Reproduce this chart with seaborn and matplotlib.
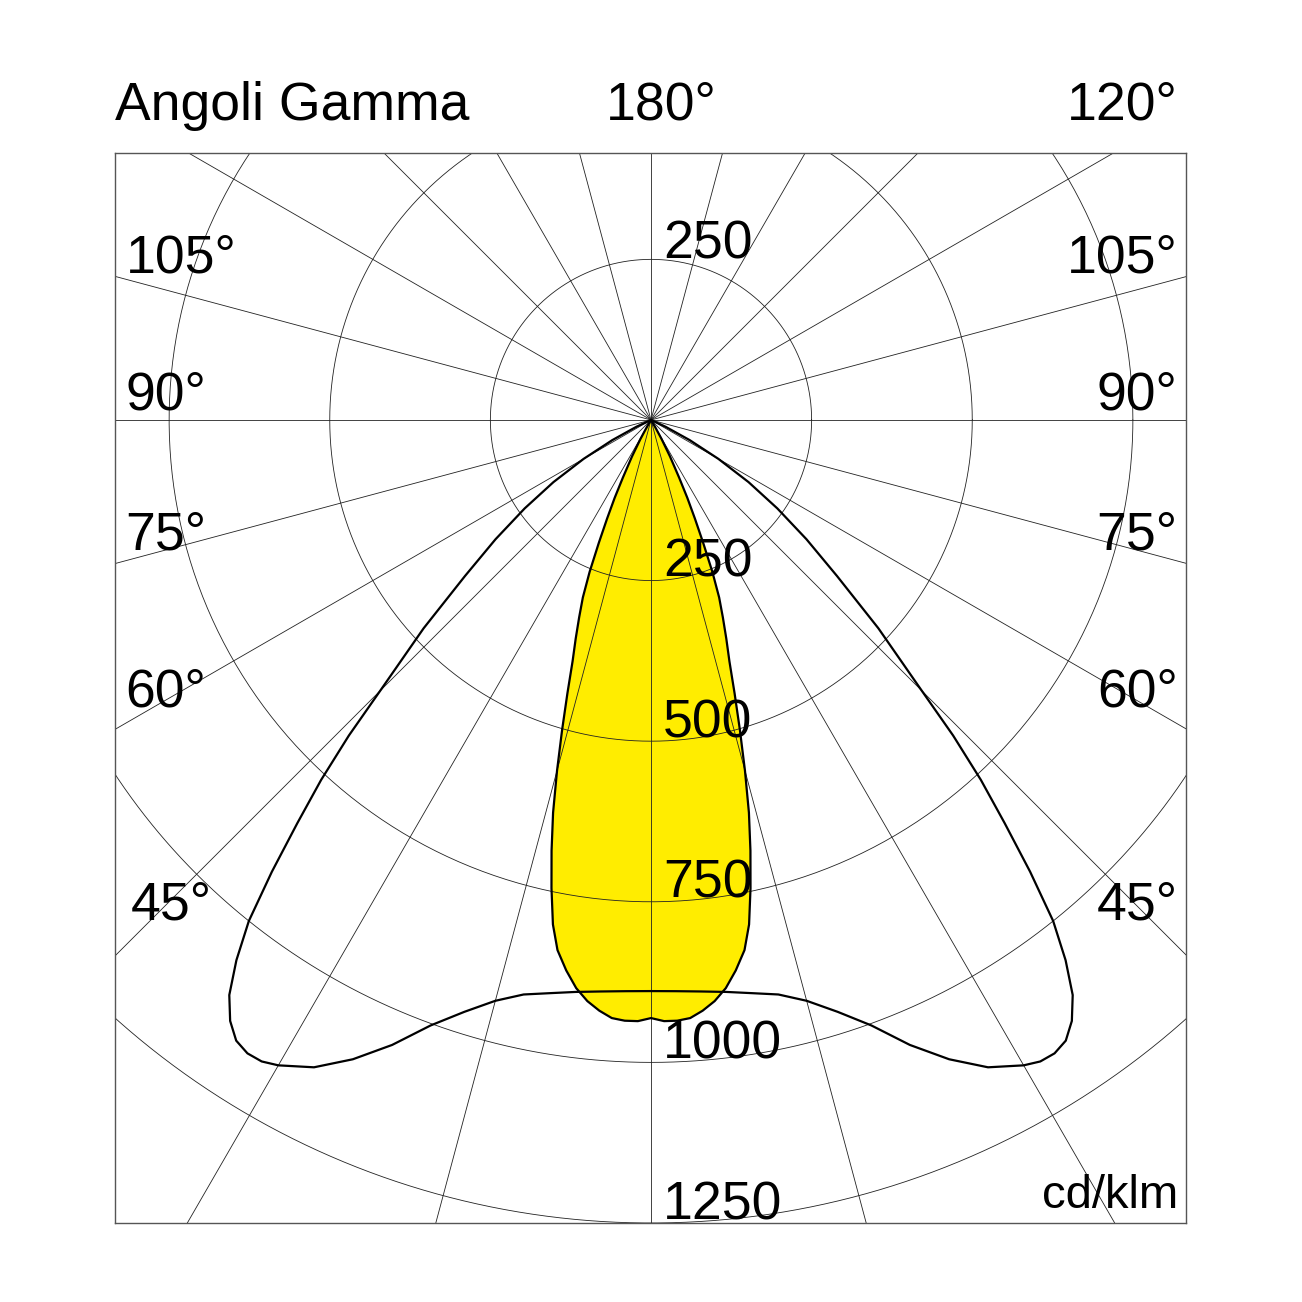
import numpy as np
import pandas as pd
import matplotlib
matplotlib.use('Agg')
import matplotlib.pyplot as plt
import seaborn as sns

# gamma angles (deg from nadir) and intensities in cd/klm, one half of each symmetric plane
gamma_yellow = [0, 1.25, 2.5, 3.75, 5, 6.25, 7.5, 8.75, 10, 11, 12, 13, 14, 15, 16, 17,
                18, 19, 20, 21, 22, 23, 24, 25, 26, 27.5, 29, 30.5, 32]
cd_yellow = [931, 936, 936, 933, 923, 910, 892, 867, 838, 800, 745, 688, 630, 565, 502, 445,
             395, 360, 327, 296, 255, 208, 168, 134, 100, 64, 34, 12, 0]

gamma_black = [0, 2.5, 5, 7.5, 10, 12.5, 15, 17.5, 20, 22.5, 25, 27.5, 30, 31.25, 32.5,
               33.75, 35, 36.25, 37.5, 38.75, 40, 41.25, 42.5, 43.75, 45, 47.5, 50,
               52.5, 55, 57.5, 60, 62.5, 65, 67.5]
cd_black = [889, 890, 893, 898, 906, 916, 936, 966, 1003, 1053, 1098, 1136, 1160, 1168, 1169,
            1162, 1142, 1110, 1060, 1000, 918, 835, 760, 680, 596, 480, 378,
            305, 240, 180, 121, 68, 25, 0]

rings = [250, 500, 750, 1000, 1250]
radial_angles = list(range(0, 360, 15))

side_labels = ["105°", "90°", "75°", "60°", "45°"]
label_heights = [229, 16, -202, -446, -778]

yellow_fill = "#FFED00"


def plane_xy(gammas, values):
    g = np.radians(np.array(gammas, dtype=float))
    v = np.array(values, dtype=float)
    g_full = np.concatenate([-g[::-1], g[1:]])
    v_full = np.concatenate([v[::-1], v[1:]])
    return pd.DataFrame({"x": v_full * np.sin(g_full), "y": -v_full * np.cos(g_full)})


sns.set_theme(style="white")
plt.rcParams['font.family'] = ['Liberation Sans', 'DejaVu Sans']
plt.rcParams['text.color'] = 'black'

fig = plt.figure(figsize=(13.02, 13.02), dpi=100)
ax = fig.add_axes([115 / 1302, 79 / 1302, 1071 / 1302, 1070 / 1302])
px = 0.6425  # pixels per cd/klm
ax.set_xlim(-536 / px, 535 / px)
ax.set_ylim(-1250, 267 / px)

df_y = plane_xy(gamma_yellow, cd_yellow)
df_b = plane_xy(gamma_black, cd_black)

ax.fill(df_y["x"], df_y["y"], color=yellow_fill, zorder=1, lw=0)

# grid: rings and radial lines every 15 deg
t = np.linspace(0, 2 * np.pi, 721)
for r in rings:
    ax.plot(r * np.cos(t), r * np.sin(t), color="#222222", lw=0.6, zorder=2)
for a in radial_angles:
    ar = np.radians(a)
    ax.plot([0, 3000 * np.sin(ar)], [0, -3000 * np.cos(ar)], color="#222222", lw=0.6, zorder=2)

sns.lineplot(data=df_y, x="x", y="y", sort=False, estimator=None, color="black", lw=1.6, ax=ax, zorder=3)
sns.lineplot(data=df_b, x="x", y="y", sort=False, estimator=None, color="black", lw=1.6, ax=ax, zorder=3)

ax.set_xticks([])
ax.set_yticks([])
ax.set_xlabel("")
ax.set_ylabel("")
for s in ax.spines.values():
    s.set_color("#555555")
    s.set_linewidth(1.0)

fs = 38.5
# ring labels
ax.text(12 / px, 252, "250", fontsize=fs, ha="left", va="baseline", zorder=5)
for r in rings:
    ax.text(12 / px, -r + 6, str(r), fontsize=fs, ha="left", va="baseline", zorder=5)

# angle labels on both sides
for lab, h in zip(side_labels, label_heights):
    xl = -818 if lab != "45°" else -810
    ax.text(xl, h, lab, fontsize=fs, ha="left", va="baseline", zorder=5)
    ax.text(820, h, lab, fontsize=fs, ha="right", va="baseline", zorder=5)

ax.text(820, -1226, "cd/klm", fontsize=34, ha="right", va="baseline", zorder=5)

fig.text(115 / 1302, 1 - 120 / 1302, "Angoli Gamma", fontsize=fs, ha="left", va="baseline")
fig.text(661 / 1302, 1 - 120 / 1302, "180°", fontsize=fs, ha="center", va="baseline")
fig.text(1178 / 1302, 1 - 120 / 1302, "120°", fontsize=fs, ha="right", va="baseline")

fig.savefig("out.png", dpi=100, facecolor="white")
